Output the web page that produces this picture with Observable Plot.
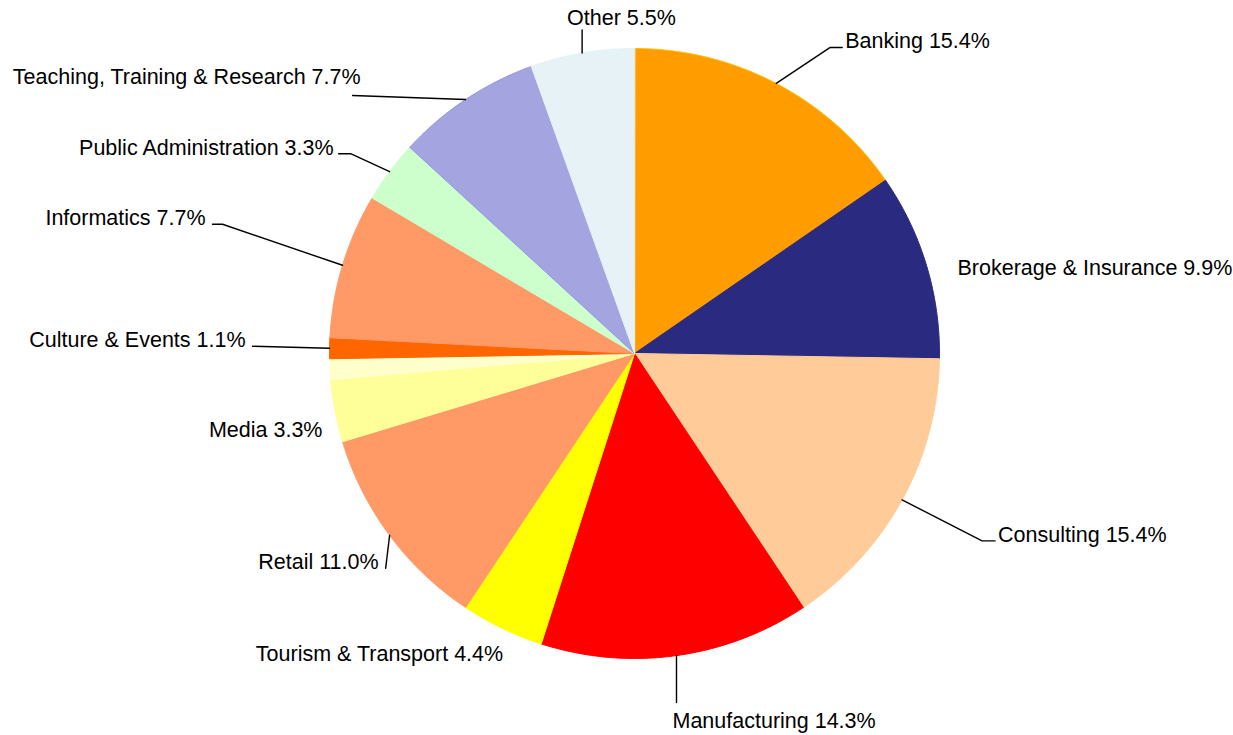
<!DOCTYPE html>
<html><head><meta charset="utf-8">
<script src="https://cdn.jsdelivr.net/npm/d3@7"></script>
<script src="https://cdn.jsdelivr.net/npm/@observablehq/plot@0.6"></script>
<style>html,body{margin:0;padding:0;background:#fff;overflow:hidden} #chart{width:1233px;height:735px;}</style>
</head><body><div id="chart"></div>
<script>
// ---- data ----
const categories = ["Banking","Brokerage & Insurance","Consulting","Manufacturing","Tourism & Transport","Retail","Media","","Culture & Events","Informatics","Public Administration","Teaching, Training & Research","Other"];
const shares = [15.4, 9.9, 15.4, 14.3, 4.4, 11.0, 3.3, 1.1, 1.1, 7.7, 3.3, 7.7, 5.5];
const palette = ["#FF9C00","#2A2A80","#FFCC99","#FF0000","#FFFF00","#FF9966","#FFFF99","#FFFFCC","#FF6600","#FF9966","#CCFFCC","#A4A4E0","#E6F2F5"];
const edgeColors = ["#FFC000","#2A2A80","#FFCC99","#FF0000","#FFFF00","#FF9966","#FFFF99","#FFFFCC","#FF6600","#FF9966","#CCFFCC","#9595E0","#E6F2F5"];

// ---- layout (not data) ----
const pieLayout = {cx: 634, cy: 353, r: 305};
// offsets relative to the point on the rim at each slice's mid-angle
const labelLayout = [
  {anchor:"start", text:[69,-42], leader:[[54,-36],[66,-36]]},
  {anchor:"start", text:[31,3], leader:[]},
  {anchor:"start", text:[96,35], leader:[[80,41],[93,41]]},
  {anchor:"start", text:[-4,66], leader:[[0,47]]},
  {anchor:"end", text:[1,26], leader:[]},
  {anchor:"end", text:[-11,27], leader:[[-4,33]]},
  {anchor:"end", text:[-12.5,19], leader:[]},
  {anchor:"end", text:[0,0], leader:[]},
  {anchor:"end", text:[-84,-8], leader:[[-77,-2]]},
  {anchor:"end", text:[-137,-47], leader:[[-120,-41],[-130,-41]]},
  {anchor:"end", text:[-56,-24], leader:[[-39,-18],[-51,-18]]},
  {anchor:"end", text:[-105,-22], leader:[[-113,-4]]},
  {anchor:"start", text:[-15,-35], leader:[[0,-23]]}
];

const arcs = d3.pie().sort(null).value(d => d)(shares);
const {cx, cy, r} = pieLayout;
const pt = (a, rr) => ({x: cx + rr * Math.sin(a), y: cy - rr * Math.cos(a)});

const slicePts = [];
arcs.forEach((a, i) => {
  slicePts.push({i, ...pt(0, 0)});
  const n = Math.max(2, Math.ceil((a.endAngle - a.startAngle) / (Math.PI / 360)));
  for (let k = 0; k <= n; k++) {
    const ang = a.startAngle + (a.endAngle - a.startAngle) * k / n;
    slicePts.push({i, ...pt(ang, r)});
  }
});

const leaderPts = [];
const labels = [];
arcs.forEach((a, i) => {
  if (!categories[i]) return;
  const mid = (a.startAngle + a.endAngle) / 2;
  const e = pt(mid, r);
  const L = labelLayout[i];
  if (L.leader.length) {
    leaderPts.push({i, x: e.x, y: e.y});
    L.leader.forEach(([dx, dy]) => leaderPts.push({i, x: e.x + dx, y: e.y + dy}));
  }
  labels.push({i, anchor: L.anchor, x: e.x + L.text[0], y: e.y + L.text[1],
    text: `${categories[i]} ${shares[i].toFixed(1)}%`});
});

const font = "Liberation Sans, Arial, Helvetica, sans-serif";
const fs = 21.5;
const chart = Plot.plot({
  width: 1233, height: 735, margin: 0,
  x: {type: "identity", axis: null},
  y: {type: "identity", axis: null},
  style: {background: "#fff", fontFamily: font},
  marks: [
    Plot.line(slicePts, {x: "x", y: "y", z: "i", curve: "linear-closed",
      fill: d => palette[d.i], stroke: d => edgeColors[d.i], strokeWidth: 1}),
    Plot.line(leaderPts, {x: "x", y: "y", z: "i", stroke: "#000", strokeWidth: 1.4}),
    Plot.text(labels.filter(d => d.anchor === "start"), {x: "x", y: "y", text: "text",
      textAnchor: "start", fontSize: fs, fontFamily: font, fill: "#000"}),
    Plot.text(labels.filter(d => d.anchor === "end"), {x: "x", y: "y", text: "text",
      textAnchor: "end", fontSize: fs, fontFamily: font, fill: "#000"})
  ]
});
document.getElementById("chart").append(chart);
</script>
</body></html>
